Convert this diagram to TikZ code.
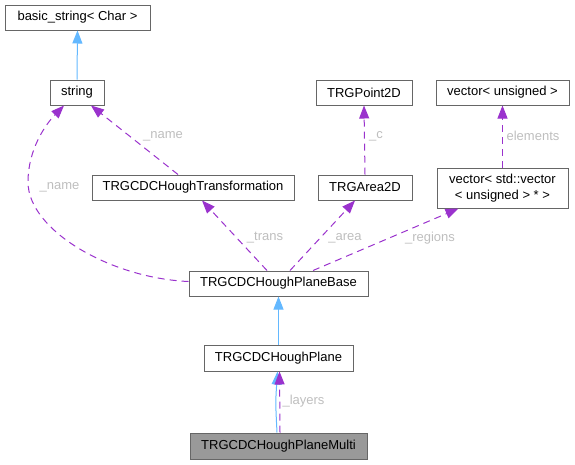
\documentclass[tikz,border=0pt]{standalone}
\usepackage{fontspec}
\setmainfont{Liberation Sans}
\usetikzlibrary{arrows.meta}
\definecolor{edgepurple}{HTML}{9A32CD}
\definecolor{edgeblue}{HTML}{63B8FF}
\definecolor{boxborder}{HTML}{666666}
\definecolor{labelgray}{HTML}{BEBEBE}
\definecolor{curfill}{HTML}{999999}
\tikzset{
  cls/.style={draw=boxborder, line width=1pt, fill=white, inner sep=0pt, align=center,
    font=\fontsize{13}{16}\selectfont, text=black},
  curcls/.style={cls, fill=curfill},
  inherit/.style={draw=edgeblue, line width=1pt, -{Triangle[length=13pt,width=10pt]}, edgeblue},
  usage/.style={draw=edgepurple, line width=1pt, dash pattern=on 7pt off 5pt, -{Triangle[length=13pt,width=10pt]}, edgepurple},
  elabel/.style={text=labelgray, font=\fontsize{13}{16}\selectfont, inner sep=0pt}
}
\begin{document}
\begin{tikzpicture}[x=1pt,y=-1pt]
\useasboundingbox (0,0) rectangle (575,464);
% edges (drawn first, nodes on top)
\coordinate (c1) at (28,182);
% nodes
\node[cls, minimum width=145pt, minimum height=25pt] (basic) at (77.5,17.5) {basic\_string< Char >};
\node[cls, minimum width=54pt, minimum height=25pt] (string) at (77,92.5) {string};
\node[cls, minimum width=202pt, minimum height=25pt] (transf) at (193,187.5) {TRGCDCHoughTransformation};
\node[cls, minimum width=96pt, minimum height=25pt] (point) at (364,92.5) {TRGPoint2D};
\node[cls, minimum width=133pt, minimum height=25pt] (vecu) at (502.5,92.5) {vector< unsigned >};
\node[cls, minimum width=94pt, minimum height=25pt] (area) at (365,187.5) {TRGArea2D};
\node[cls, minimum width=131pt, minimum height=40pt] (vecv) at (502.5,188) {vector< std::vector\\< unsigned > * >};
\node[cls, minimum width=179pt, minimum height=25pt] (base) at (278.5,283.5) {TRGCDCHoughPlaneBase};
\node[cls, minimum width=149pt, minimum height=26pt] (hough) at (278.5,358) {TRGCDCHoughPlane};
\node[curcls, minimum width=177pt, minimum height=26pt] (multi) at (278.5,446) {TRGCDCHoughPlaneMulti};
% edges
\draw[inherit] (string.north) -- (basic.south);
\draw[usage] ([yshift=2pt]base.west) .. controls (110,278) and (28,230) .. (c1)
  .. controls (28,150) and (45,125) .. ([xshift=-13pt]string.south);
\draw[usage] ([xshift=-15pt]transf.north) -- ([xshift=14pt]string.south);
\draw[usage] ([xshift=-11.5pt]base.north) -- ([xshift=9pt]transf.south);
\draw[usage] ([xshift=11.5pt]base.north) -- ([xshift=-10pt]area.south);
\draw[usage] ([xshift=34.5pt]base.north) -- ([xshift=-44pt]vecv.south);
\draw[usage] (area.north) -- (point.south);
\draw[usage] (vecv.north) -- (vecu.south);
\draw[inherit] (hough.north) -- (base.south);
\draw[inherit] ([xshift=-1.5pt]multi.north) .. controls ([xshift=-3pt,yshift=30pt]multi.north) .. ([xshift=-1pt]hough.south);
\draw[usage] ([xshift=1.5pt]multi.north) -- ([xshift=1pt]hough.south);
% labels
\node[elabel] (l1) at (163,136) {\_name};
\node[elabel] (l2) at (59.5,187) {\_name};
\node[elabel] (l3) at (265,238) {\_trans};
\node[elabel] (l4) at (345,238) {\_area};
\node[elabel] (l5) at (430,238) {\_regions};
\node[elabel] (l6) at (376,136) {\_c};
\node[elabel] (l7) at (533,136) {elements};
\node[elabel] (l8) at (303.5,401) {\_layers};
\end{tikzpicture}
\end{document}
